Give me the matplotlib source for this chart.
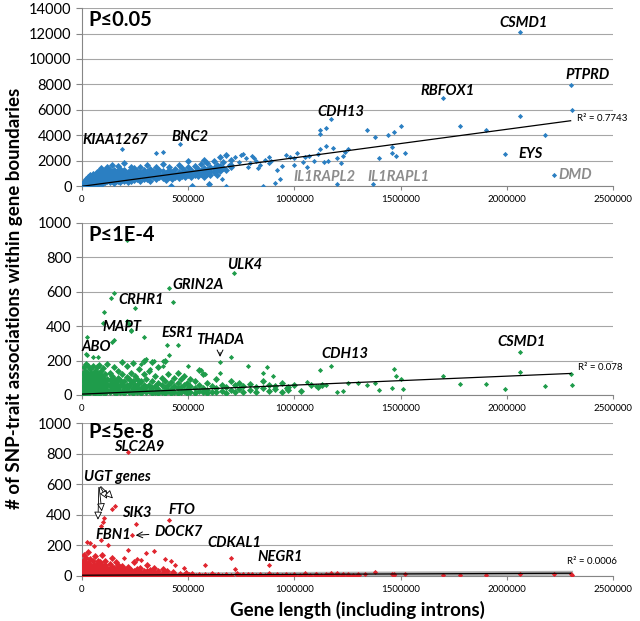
import numpy as np
import matplotlib
matplotlib.use('Agg')
import matplotlib.pyplot as plt

plt.rcParams['font.family'] = ['Lato', 'DejaVu Sans']

# gene length in kb, count of associations
p05_cloud = [
    (5, 20), (5, 80), (5, 150), (10, 50), (10, 200), (10, 350), (15, 30), (15, 120), (15, 280), (15, 450),
    (20, 100), (20, 250), (20, 400), (20, 600), (25, 60), (25, 300), (25, 500), (30, 150), (30, 350), (30, 700),
    (35, 80), (35, 420), (35, 250), (40, 200), (40, 500), (40, 800), (40, 900), (45, 120), (45, 380), (45, 650),
    (50, 300), (50, 550), (50, 1000), (50, 180), (55, 450), (55, 700), (55, 250), (60, 150), (60, 600), (60, 850),
    (60, 380), (65, 500), (65, 950), (65, 300), (70, 250), (70, 700), (70, 1100), (70, 420), (75, 600), (75, 180),
    (75, 850), (80, 350), (80, 750), (80, 1200), (80, 500), (85, 900), (85, 280), (85, 620), (90, 450), (90, 1000),
    (90, 700), (90, 1400), (95, 200), (95, 800), (95, 550), (100, 400), (100, 900), (100, 1150), (100, 650),
    (110, 300), (110, 700), (110, 1000), (110, 1300), (110, 500), (120, 450), (120, 850), (120, 1100), (120, 600),
    (120, 1500), (130, 350), (130, 750), (130, 1000), (130, 1250), (140, 550), (140, 900), (140, 1150), (140, 400),
    (140, 1650), (150, 250), (150, 700), (150, 1000), (150, 1300), (160, 600), (160, 850), (160, 1100), (160, 450),
    (170, 400), (170, 800), (170, 1200), (170, 950), (170, 1600), (180, 650), (180, 1000), (180, 300), (180, 1350),
    (190, 500), (190, 900), (190, 1150), (190, 750), (200, 400), (200, 700), (200, 1000), (200, 1250), (200, 1800),
    (215, 550), (215, 850), (215, 1100), (215, 300), (230, 650), (230, 950), (230, 1300), (230, 450), (230, 1550),
    (245, 500), (245, 800), (245, 1050), (245, 1400), (260, 700), (260, 950), (260, 600), (260, 1200),
    (275, 400), (275, 850), (275, 1100), (275, 1500), (290, 750), (290, 1000), (290, 550), (290, 1300),
    (305, 600), (305, 900), (305, 1150), (305, 1650), (320, 800), (320, 1050), (320, 450), (320, 1350),
    (335, 700), (335, 950), (335, 1200), (350, 550), (350, 850), (350, 1100), (350, 1500), (365, 750), (365, 1000),
    (365, 1300), (380, 650), (380, 900), (380, 1200), (380, 1750), (395, 800), (395, 1050), (395, 500),
    (410, 700), (410, 950), (410, 1250), (410, 1550), (425, 850), (425, 1100), (425, 600), (440, 750), (440, 1000),
    (440, 1350), (455, 900), (455, 1150), (455, 650), (455, 1700), (470, 800), (470, 1050), (470, 1400),
    (485, 950), (485, 1200), (485, 700), (500, 850), (500, 1100), (500, 1500), (500, 2000), (515, 1000),
    (515, 1250), (515, 750), (530, 900), (530, 1150), (530, 1600), (545, 1050), (545, 1350), (545, 800),
    (560, 950), (560, 1200), (560, 1750), (575, 1100), (575, 1400), (575, 700), (575, 2100), (590, 1000),
    (590, 1300), (590, 1800), (605, 1200), (605, 1550), (605, 850), (620, 1100), (620, 1450), (620, 1950),
    (635, 1300), (635, 1700), (635, 900), (650, 1200), (650, 1600), (650, 2300), (665, 1400), (665, 1900),
    (680, 1250), (680, 2450), (700, 1500), (700, 2100), (700, 1700), (420, 50), (520, 30), (600, 150),
]
p05_out = [
    (2060, 12100), (2300, 7950), (2305, 6000), (1700, 6950), (2060, 5550), (1170, 5250), (1150, 4550),
    (1120, 4400), (1120, 4100), (1340, 4400), (1380, 3850), (1440, 4050), (1470, 4250), (1500, 4750),
    (1780, 4700), (1900, 4450), (2180, 4050), (1990, 2500), (2220, 900), (1200, 150), (1370, 200),
    (460, 3300), (190, 2950), (380, 2700), (350, 2600), (1460, 3050), (1460, 2600), (1480, 2400),
    (1520, 2600), (1400, 2200), (1240, 2700), (1230, 2400), (1220, 1800), (1150, 3200), (1180, 3000),
    (1120, 2900), (1110, 2500), (1140, 1900), (1200, 2200), (1250, 2900), (1050, 2300), (1000, 2200),
    (1060, 1500), (960, 2450), (920, 1300), (930, 600), (910, 250), (850, 50), (880, 2300), (840, 1700),
    (820, 2000), (800, 2350), (770, 2200), (750, 2450), (720, 2300), (740, 1900), (760, 2500), (790, 1800),
    (810, 2200), (830, 1400), (860, 2100), (890, 2000), (940, 1600), (980, 2300), (1010, 2600), (1040, 1900),
    (1070, 2400), (1090, 2000), (690, 1700), (680, 50), (660, 600), (600, 200), (780, 1500), (880, 1800),
    (1160, 2000), (1000, 1700),
]

p4_cloud = [
    (5, 10), (5, 40), (5, 80), (5, 120), (10, 20), (10, 60), (10, 100), (10, 160), (15, 5), (15, 50),
    (15, 90), (15, 140), (20, 30), (20, 70), (20, 110), (20, 180), (25, 15), (25, 55), (25, 95), (25, 130),
    (30, 40), (30, 80), (30, 120), (30, 170), (35, 10), (35, 60), (35, 100), (40, 25), (40, 75), (40, 115),
    (40, 150), (45, 45), (45, 90), (45, 130), (50, 15), (50, 60), (50, 105), (50, 170), (55, 35), (55, 80),
    (55, 120), (60, 10), (60, 50), (60, 95), (60, 140), (65, 30), (65, 70), (65, 110), (70, 20), (70, 60),
    (70, 100), (70, 160), (75, 40), (75, 85), (75, 125), (80, 10), (80, 55), (80, 90), (80, 175), (85, 30),
    (85, 70), (85, 115), (90, 15), (90, 50), (90, 95), (90, 140), (95, 35), (95, 75), (95, 110), (100, 20),
    (100, 60), (100, 100), (100, 155), (110, 10), (110, 45), (110, 80), (110, 120), (120, 30), (120, 65),
    (120, 95), (120, 180), (130, 15), (130, 50), (130, 85), (130, 130), (140, 35), (140, 70), (140, 110),
    (150, 20), (150, 55), (150, 90), (150, 160), (160, 10), (160, 40), (160, 75), (170, 30), (170, 60),
    (170, 100), (170, 140), (180, 15), (180, 50), (180, 85), (190, 25), (190, 65), (190, 120), (190, 190),
    (200, 10), (200, 45), (200, 80), (210, 30), (210, 60), (210, 105), (210, 170), (220, 15), (220, 50),
    (220, 90), (230, 25), (230, 70), (230, 130), (240, 10), (240, 40), (240, 80), (240, 185), (250, 30),
    (250, 60), (250, 110), (260, 15), (260, 45), (260, 90), (270, 25), (270, 70), (270, 150), (280, 10),
    (280, 40), (280, 80), (290, 30), (290, 55), (290, 120), (290, 200), (300, 15), (300, 45), (300, 95),
    (315, 25), (315, 60), (315, 140), (330, 10), (330, 40), (330, 80), (330, 190), (345, 20), (345, 50),
    (345, 110), (360, 10), (360, 35), (360, 70), (360, 160), (375, 20), (375, 55), (375, 100), (390, 10),
    (390, 40), (390, 80), (390, 200), (405, 25), (405, 60), (405, 120), (420, 10), (420, 35), (420, 75),
    (435, 20), (435, 50), (435, 100), (450, 10), (450, 40), (450, 70), (450, 130), (465, 15), (465, 45),
    (465, 90), (480, 25), (480, 60), (480, 110), (495, 10), (495, 35), (495, 70), (510, 20), (510, 50),
    (510, 95), (530, 10), (530, 40), (530, 80), (550, 25), (550, 55), (550, 145), (570, 15), (570, 40),
    (570, 120), (590, 10), (590, 30), (590, 70), (610, 20), (610, 50), (630, 15), (630, 40), (630, 90),
    (660, 25), (660, 60), (680, 10), (680, 45), (700, 30), (700, 80), (720, 20), (720, 55), (740, 35),
    (740, 70), (760, 15), (760, 50), (790, 30), (790, 65), (820, 20), (820, 45), (850, 40), (850, 80),
    (880, 25), (880, 60), (910, 35), (910, 50), (940, 20), (940, 70), (970, 45), (970, 30), (1000, 55),
    (1030, 25), (1080, 60), (1110, 45), (1130, 55),
]
p4_out = [
    (210, 900), (715, 710), (410, 620), (430, 540), (150, 590), (135, 565), (250, 505), (105, 485),
    (210, 430), (220, 410), (100, 420), (230, 380), (230, 370), (290, 335), (150, 320), (140, 305),
    (25, 335), (20, 240), (25, 230), (50, 220), (75, 220), (400, 290), (450, 290), (410, 230), (650, 190),
    (700, 220), (1170, 170), (1120, 145), (2060, 250), (2060, 135), (2300, 120), (2305, 60), (2180, 50),
    (1990, 35), (1900, 65), (1780, 65), (1700, 110), (1470, 150), (1480, 110), (1500, 90), (1510, 35),
    (1460, 40), (1400, 30), (1340, 55), (1380, 70), (1300, 70), (1250, 70), (1230, 25), (1200, 20),
    (1150, 60), (1100, 50), (1060, 75), (960, 40), (900, 110), (870, 160), (850, 130), (780, 170),
    (650, 125), (560, 145), (580, 120), (500, 170), (300, 210), (340, 200), (380, 200), (360, 160),
    (380, 170), (280, 180), (320, 150),
]

p8_cloud = [
    (5, 5), (5, 30), (5, 60), (5, 100), (10, 10), (10, 40), (10, 80), (10, 140), (15, 5), (15, 25),
    (15, 55), (15, 90), (20, 15), (20, 45), (20, 70), (20, 120), (25, 5), (25, 35), (25, 60), (30, 10),
    (30, 50), (30, 85), (30, 160), (35, 20), (35, 40), (35, 65), (40, 5), (40, 30), (40, 75), (40, 110),
    (45, 15), (45, 45), (45, 60), (50, 5), (50, 25), (50, 55), (50, 95), (55, 10), (55, 40), (55, 70),
    (60, 20), (60, 50), (60, 130), (65, 5), (65, 35), (65, 60), (70, 15), (70, 45), (70, 80), (75, 5),
    (75, 30), (75, 55), (75, 100), (80, 10), (80, 40), (80, 65), (85, 20), (85, 50), (85, 90), (90, 5),
    (90, 35), (90, 60), (95, 15), (95, 45), (95, 75), (95, 140), (100, 5), (100, 30), (100, 55), (110, 10),
    (110, 40), (110, 70), (110, 100), (120, 5), (120, 25), (120, 50), (130, 15), (130, 45), (130, 80),
    (140, 5), (140, 30), (140, 60), (140, 120), (150, 10), (150, 35), (150, 55), (160, 5), (160, 25),
    (160, 45), (160, 90), (170, 15), (170, 40), (170, 70), (180, 5), (180, 30), (180, 50), (190, 10),
    (190, 35), (190, 65), (200, 5), (200, 25), (200, 45), (215, 10), (215, 30), (215, 60), (230, 5),
    (230, 20), (230, 40), (245, 10), (245, 30), (245, 90), (260, 5), (260, 20), (260, 45), (275, 10),
    (275, 25), (275, 55), (290, 5), (290, 15), (290, 35), (305, 10), (305, 30), (305, 70), (320, 5),
    (320, 20), (320, 40), (340, 10), (340, 25), (340, 50), (360, 5), (360, 15), (360, 35), (380, 10),
    (380, 20), (380, 45), (400, 5), (400, 15), (400, 30), (430, 10), (430, 25), (460, 5), (460, 15),
    (490, 10), (490, 20), (520, 5), (520, 10), (550, 8), (580, 5), (610, 10), (640, 5), (680, 8),
    (730, 12), (760, 5), (800, 8), (840, 5), (880, 10), (920, 5), (960, 8), (1000, 5), (1050, 10),
    (1100, 5), (1150, 8), (1200, 10), (1250, 5), (1300, 8),
    (210, 2), (225, 4), (240, 1), (255, 3), (270, 2), (285, 5), (300, 1), (315, 3), (330, 2), (350, 4),
    (370, 2), (390, 3), (415, 1), (445, 3), (475, 2), (505, 4), (535, 1), (565, 3), (595, 2), (625, 3),
    (660, 1), (700, 3), (745, 2), (780, 4), (820, 2), (860, 3), (900, 1), (940, 3), (980, 2), (1025, 3),
    (1075, 2), (1125, 3), (1175, 1), (1225, 3), (1275, 2),
]
p8_out = [
    (215, 810), (155, 460), (140, 440), (105, 380), (90, 325), (100, 355), (410, 365), (255, 340),
    (235, 265), (88, 235), (125, 205), (25, 225), (40, 215), (55, 195), (215, 170), (200, 120),
    (260, 110), (280, 105), (340, 165), (300, 150), (390, 110), (420, 100), (440, 75), (480, 50),
    (580, 70), (700, 120), (720, 45), (880, 70), (1170, 20), (1380, 25), (1460, 10), (1470, 5),
    (1520, 10), (1700, 5), (1780, 5), (1900, 5), (2060, 10), (2220, 10), (2300, 15), (2305, 5),
    (1230, 15), (1200, 10), (1330, 10), (1470, 12), (1100, 12), (1160, 8),
]

# linear trend read at x = 0 and x = 2300 kb
p05_trend = [0, 5150]
p4_trend = [5, 125]
p8_trend = [5, 18]
trend_x = [0, 2300]
r2_text = ['R² = 0.7743', 'R² = 0.078', 'R² = 0.0006']
r2_pos = [(2330, 4950), (2335, 135), (2285, 65)]

p05_labels = [('CSMD1', 2080, 12800), ('PTPRD', 2380, 8750), ('RBFOX1', 1720, 7450), ('CDH13', 1220, 5850),
              ('BNC2', 510, 3850), ('KIAA1267', 155, 3600), ('EYS', 2110, 2500)]
p05_gray = [('IL1RAPL2', 1140, 700), ('IL1RAPL1', 1490, 740), ('DMD', 2320, 850)]
p4_labels = [('ULK4', 765, 756), ('GRIN2A', 545, 640), ('CRHR1', 277, 552), ('MAPT', 190, 397),
             ('ESR1', 450, 360), ('ABO', 70, 281), ('CDH13', 1240, 240), ('CSMD1', 2070, 310)]
p8_labels = [('SLC2A9', 270, 845), ('SIK3', 260, 412), ('FTO', 470, 431), ('FBN1', 150, 268),
             ('CDKAL1', 720, 218), ('NEGR1', 935, 126)]
ugt_targets = [(75, 350), (95, 405), (125, 490), (155, 495)]

fig = plt.figure(figsize=(6.4, 6.21), dpi=100)
ax1 = fig.add_axes([0.128, 0.700, 0.83, 0.287])
ax2 = fig.add_axes([0.128, 0.364, 0.83, 0.277])
ax3 = fig.add_axes([0.128, 0.0725, 0.83, 0.246])

grey = '#868686'


def panel(ax, cloud, out, color, ymax, ystep, title, ty, trend, r2, r2xy, band=False):
    c = np.array(cloud, dtype=float)
    o = np.array(out, dtype=float)
    ax.scatter(c[:, 0] * 1000, c[:, 1], s=13, marker='D', color=color, linewidths=0, zorder=3)
    ax.scatter(o[:, 0] * 1000, o[:, 1], s=7, marker='D', color=color, linewidths=0, zorder=3)
    if band:
        ax.plot(np.array(trend_x) * 1000, trend, color='#b0b0b0', lw=3.5, zorder=2.5)
    ax.plot(np.array(trend_x) * 1000, trend, color='black', lw=0.9, zorder=4)
    ax.text(r2xy[0] * 1000, r2xy[1], r2, fontsize=7, va='bottom', ha='left')
    ax.set_xlim(0, 2500000)
    ax.set_ylim(0, ymax)
    ax.set_yticks(np.arange(0, ymax + 1, ystep))
    ax.set_xticks(np.arange(0, 2500001, 500000))
    ax.set_xticklabels(['0', '500000', '1000000', '1500000', '2000000', '2500000'], fontsize=7)
    ax.tick_params(axis='y', labelsize=10.5, colors=grey, labelcolor='black', direction='out', length=4)
    ax.tick_params(axis='x', colors=grey, labelcolor='black', direction='out', length=3)
    ax.grid(axis='y', color='#a6a6a6', lw=0.8)
    ax.set_axisbelow(True)
    for s in ['top', 'right']:
        ax.spines[s].set_visible(False)
    ax.spines['left'].set_color(grey)
    ax.spines['bottom'].set_color(grey)
    ax.text(0.012, ty, title, transform=ax.transAxes, fontsize=14.5, fontweight='bold', va='center')


panel(ax1, p05_cloud, p05_out, '#2b7fc2', 14000, 2000, 'P≤0.05', 0.933, p05_trend, r2_text[0], r2_pos[0])
panel(ax2, p4_cloud, p4_out, '#1f9c4b', 1000, 200, 'P≤1E-4', 0.93, p4_trend, r2_text[1], r2_pos[1])
panel(ax3, p8_cloud, p8_out, '#e0262f', 1000, 200, 'P≤5e-8', 0.945, p8_trend, r2_text[2], r2_pos[2], band=True)

lab = dict(fontsize=10.5, fontweight='bold', style='italic', ha='center', va='center')
for ax, labels in [(ax1, p05_labels), (ax2, p4_labels), (ax3, p8_labels)]:
    for name, x, y in labels:
        ax.text(x * 1000, y, name, **lab)
for name, x, y in p05_gray:
    ax1.text(x * 1000, y, name, color='#8c8c8c', **lab)

# arrows
ax2.annotate('THADA', xy=(650000, 205), xytext=(650000, 320), arrowprops=dict(arrowstyle='->', lw=0.7), **lab)
ax3.annotate('DOCK7', xy=(240000, 265), xytext=(455000, 285), arrowprops=dict(arrowstyle='->', lw=0.7), **lab)
ax3.text(10000, 648, 'UGT genes', fontsize=10.5, fontweight='bold', style='italic', va='center', ha='left')
for tx, ty in ugt_targets:
    ax3.annotate('', xy=(tx * 1000, ty), xytext=(80000, 598),
                 arrowprops=dict(arrowstyle='-|>', lw=0.6, fc='white', ec='black', mutation_scale=12))

fig.text(0.022, 0.52, '# of SNP-trait associations within gene boundaries', rotation=90,
         fontsize=13.5, fontweight='bold', ha='center', va='center')
fig.text(0.558, 0.018, 'Gene length (including introns)', fontsize=13.5, fontweight='bold', ha='center', va='center')

fig.savefig('out.png', dpi=100)
